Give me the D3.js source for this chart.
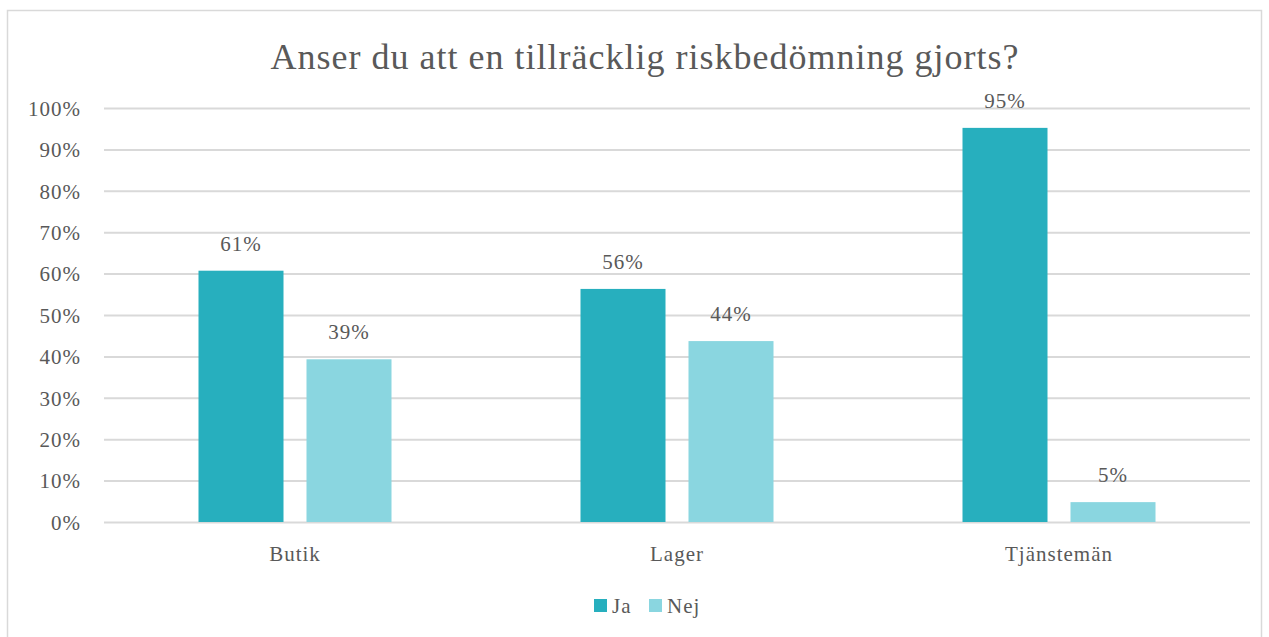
<!DOCTYPE html>
<html><head><meta charset="utf-8">
<script src="https://cdn.jsdelivr.net/npm/d3@7"></script>
<style>body{margin:0;background:#fff;} svg{display:block;}</style>
</head><body>
<svg id="chart" width="1269" height="637"></svg>
<script>
const title = "Anser du att en tillräcklig riskbedömning gjorts?";
const categories = ["Butik", "Lager", "Tjänstemän"];
const seriesNames = ["Ja", "Nej"];
const jaValues = [60.7, 56.3, 95.2];
const nejValues = [39.3, 43.7, 4.8];
const jaLabels = ["61%", "56%", "95%"];
const nejLabels = ["39%", "44%", "5%"];
const yTicks = [0, 10, 20, 30, 40, 50, 60, 70, 80, 90, 100];
const colors = ["#27AFBE", "#8AD6E0"];

(function () {
const font = "'Liberation Serif', serif";
const textColor = "#595959";
const fs = 21, ls = 1;
const svg = d3.select("#chart");

svg.append("rect").attr("x", 7.5).attr("y", 10.5).attr("width", 1254).attr("height", 640)
  .attr("fill", "#fff").attr("stroke", "#D9D9D9").attr("stroke-width", 1.5);

const pL = 104, pR = 1250, pT = 108, pB = 522;
const x = d3.scaleBand().domain(categories).range([pL, pR]);
const y = d3.scaleLinear().domain([0, 100]).range([pB, pT]);
const inner = d3.scaleBand().domain(seriesNames).range([0, 85 * 2 + 23]).paddingInner(23 / 108);

svg.append("text").attr("x", 645).attr("y", 69).attr("text-anchor", "middle")
  .attr("font-family", font).attr("font-size", 36).attr("letter-spacing", 1)
  .attr("fill", textColor).text(title);

const yAxis = svg.append("g").attr("transform", `translate(${pL},0)`)
  .call(d3.axisLeft(y).tickValues(yTicks).tickSize(-(pR - pL)).tickFormat(d => d + "%"));
yAxis.select(".domain").remove();
yAxis.selectAll(".tick line").attr("stroke", "#D9D9D9").attr("stroke-width", 2);
yAxis.selectAll(".tick text").attr("x", -23).attr("dy", "0.35em")
  .attr("font-family", font).attr("font-size", fs).attr("letter-spacing", ls).attr("fill", textColor);

const xAxis = svg.append("g").attr("transform", `translate(0,${pB})`)
  .call(d3.axisBottom(x).tickSize(0));
xAxis.select(".domain").remove();
xAxis.selectAll(".tick text").attr("dy", 0).attr("y", 39)
  .attr("font-family", font).attr("font-size", fs).attr("letter-spacing", ls).attr("fill", textColor);

const data = categories.map((c, i) => ({c, vals: [
  {s: "Ja", v: jaValues[i], l: jaLabels[i]},
  {s: "Nej", v: nejValues[i], l: nejLabels[i]}]}));

const g = svg.selectAll(".cat").data(data).join("g").attr("class", "cat")
  .attr("transform", d => `translate(${x(d.c) + (x.bandwidth() - inner.range()[1]) / 2},0)`);
g.selectAll("rect").data(d => d.vals).join("rect")
  .attr("x", d => inner(d.s)).attr("width", inner.bandwidth())
  .attr("y", d => y(d.v)).attr("height", d => y(0) - y(d.v))
  .attr("fill", (d, i) => colors[i]);
g.selectAll("text").data(d => d.vals).join("text")
  .attr("x", d => inner(d.s) + inner.bandwidth() / 2).attr("y", d => y(d.v) - 20)
  .attr("text-anchor", "middle").attr("font-family", font).attr("font-size", fs)
  .attr("letter-spacing", ls).attr("fill", textColor).text(d => d.l);

const legend = svg.append("g");
const legX = [594, 649];
seriesNames.forEach((s, i) => {
  legend.append("rect").attr("x", legX[i]).attr("y", 599).attr("width", 13).attr("height", 13).attr("fill", colors[i]);
  legend.append("text").attr("x", legX[i] + 18).attr("y", 613).attr("font-family", font)
    .attr("font-size", fs).attr("letter-spacing", ls).attr("fill", textColor).text(s);
});
})();
</script>
</body></html>
